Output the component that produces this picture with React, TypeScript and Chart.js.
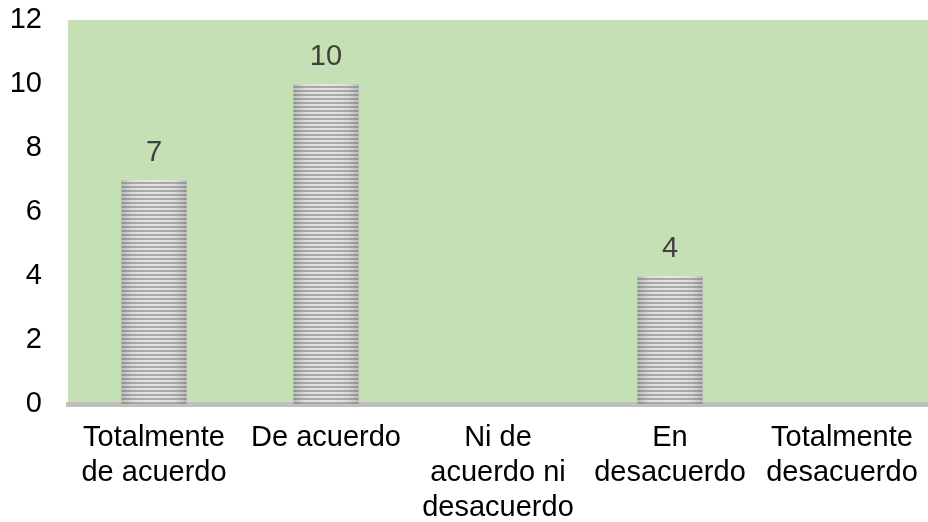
import React, { useEffect, useRef } from "react";
import { Chart, registerables } from "chart.js";

Chart.register(...registerables);

const categories: (string | string[])[] = [
  ["Totalmente", "de acuerdo"],
  "De acuerdo",
  ["Ni de", "acuerdo ni", "desacuerdo"],
  ["En", "desacuerdo"],
  ["Totalmente", "desacuerdo"],
];
const values: number[] = [7, 10, 0, 4, 0];
const yTicks: number[] = [0, 2, 4, 6, 8, 10, 12];

const FONT = "'Liberation Sans', Arial, sans-serif";

function makeStripePattern(ctx: CanvasRenderingContext2D): CanvasPattern | string {
  const c = document.createElement("canvas");
  c.width = 4;
  c.height = 4;
  const p = c.getContext("2d");
  if (!p) return "#cccccc";
  p.fillStyle = "#e6e6e6";
  p.fillRect(0, 0, 4, 4);
  p.fillStyle = "#ababab";
  p.fillRect(0, 2, 4, 2);
  const pat = ctx.createPattern(c, "repeat");
  return pat || "#cccccc";
}

const bgPlugin = {
  id: "plotBg",
  beforeDraw(chart: any) {
    const { ctx, chartArea } = chart;
    if (!chartArea) return;
    ctx.save();
    ctx.fillStyle = "#c5e0b4";
    ctx.fillRect(chartArea.left, chartArea.top, chartArea.right - chartArea.left, chartArea.bottom - chartArea.top);
    ctx.restore();
  },
};

const shadeAndLabelPlugin = {
  id: "shadeLabels",
  afterDatasetsDraw(chart: any) {
    const { ctx } = chart;
    const meta = chart.getDatasetMeta(0);
    ctx.save();
    meta.data.forEach((el: any, i: number) => {
      const v = values[i];
      if (!v) return;
      const left = el.x - el.width / 2;
      const right = el.x + el.width / 2;
      const top = el.y;
      const bottom = el.base;
      const g = ctx.createLinearGradient(left, 0, right, 0);
      g.addColorStop(0, "rgba(90,90,90,0.3)");
      g.addColorStop(0.18, "rgba(90,90,90,0.06)");
      g.addColorStop(0.5, "rgba(90,90,90,0)");
      g.addColorStop(0.82, "rgba(90,90,90,0.06)");
      g.addColorStop(1, "rgba(90,90,90,0.3)");
      ctx.fillStyle = g;
      ctx.fillRect(left, top, right - left, bottom - top);
      ctx.fillStyle = "#404040";
      ctx.font = `29px ${FONT}`;
      ctx.textAlign = "center";
      ctx.textBaseline = "middle";
      ctx.fillText(String(v), el.x, el.y - 27);
    });
    ctx.restore();
  },
};

export default function App() {
  const ref = useRef<HTMLCanvasElement | null>(null);
  useEffect(() => {
    const canvas = ref.current;
    if (!canvas) return;
    const ctx = canvas.getContext("2d");
    if (!ctx) return;
    const pattern = makeStripePattern(ctx);
    const chart = new Chart(canvas, {
      type: "bar",
      data: {
        labels: categories,
        datasets: [
          {
            data: values,
            backgroundColor: pattern as any,
            borderWidth: 0,
            barPercentage: 0.38,
            categoryPercentage: 1,
          },
        ],
      },
      options: {
        animation: false,
        responsive: false,
        maintainAspectRatio: false,
        layout: { padding: { top: 20, right: 0, bottom: 0, left: 0 } },
        plugins: {
          legend: { display: false },
          tooltip: { enabled: false },
        },
        scales: {
          x: {
            grid: { display: false, drawTicks: false },
            border: { display: true, color: "#bfbfbf", width: 5 },
            ticks: {
              color: "#000000",
              font: { size: 29, family: FONT, lineHeight: 1.2 },
              padding: 17,
              maxRotation: 0,
              autoSkip: false,
            },
            afterFit: (scale: any) => {
              scale.height = 118;
              scale.paddingLeft = 0;
              scale.paddingRight = 0;
            },
          },
          y: {
            min: 0,
            max: 12,
            afterBuildTicks: (scale: any) => {
              scale.ticks = yTicks.map((v) => ({ value: v }));
            },
            grid: { display: false, drawTicks: false },
            border: { display: false },
            ticks: {
              color: "#000000",
              font: { size: 29, family: FONT, lineHeight: 1.2 },
              padding: 26,
            },
            afterFit: (scale: any) => {
              scale.width = 68;
              scale.paddingTop = 0;
              scale.paddingBottom = 0;
            },
          },
        },
      },
      plugins: [bgPlugin, shadeAndLabelPlugin],
    });
    return () => chart.destroy();
  }, []);
  return (
    <div style={{ position: "fixed", left: 0, top: 0, width: 928, height: 522, background: "#ffffff" }}>
      <canvas ref={ref} width={928} height={522} style={{ display: "block", width: 928, height: 522 }} />
    </div>
  );
}
